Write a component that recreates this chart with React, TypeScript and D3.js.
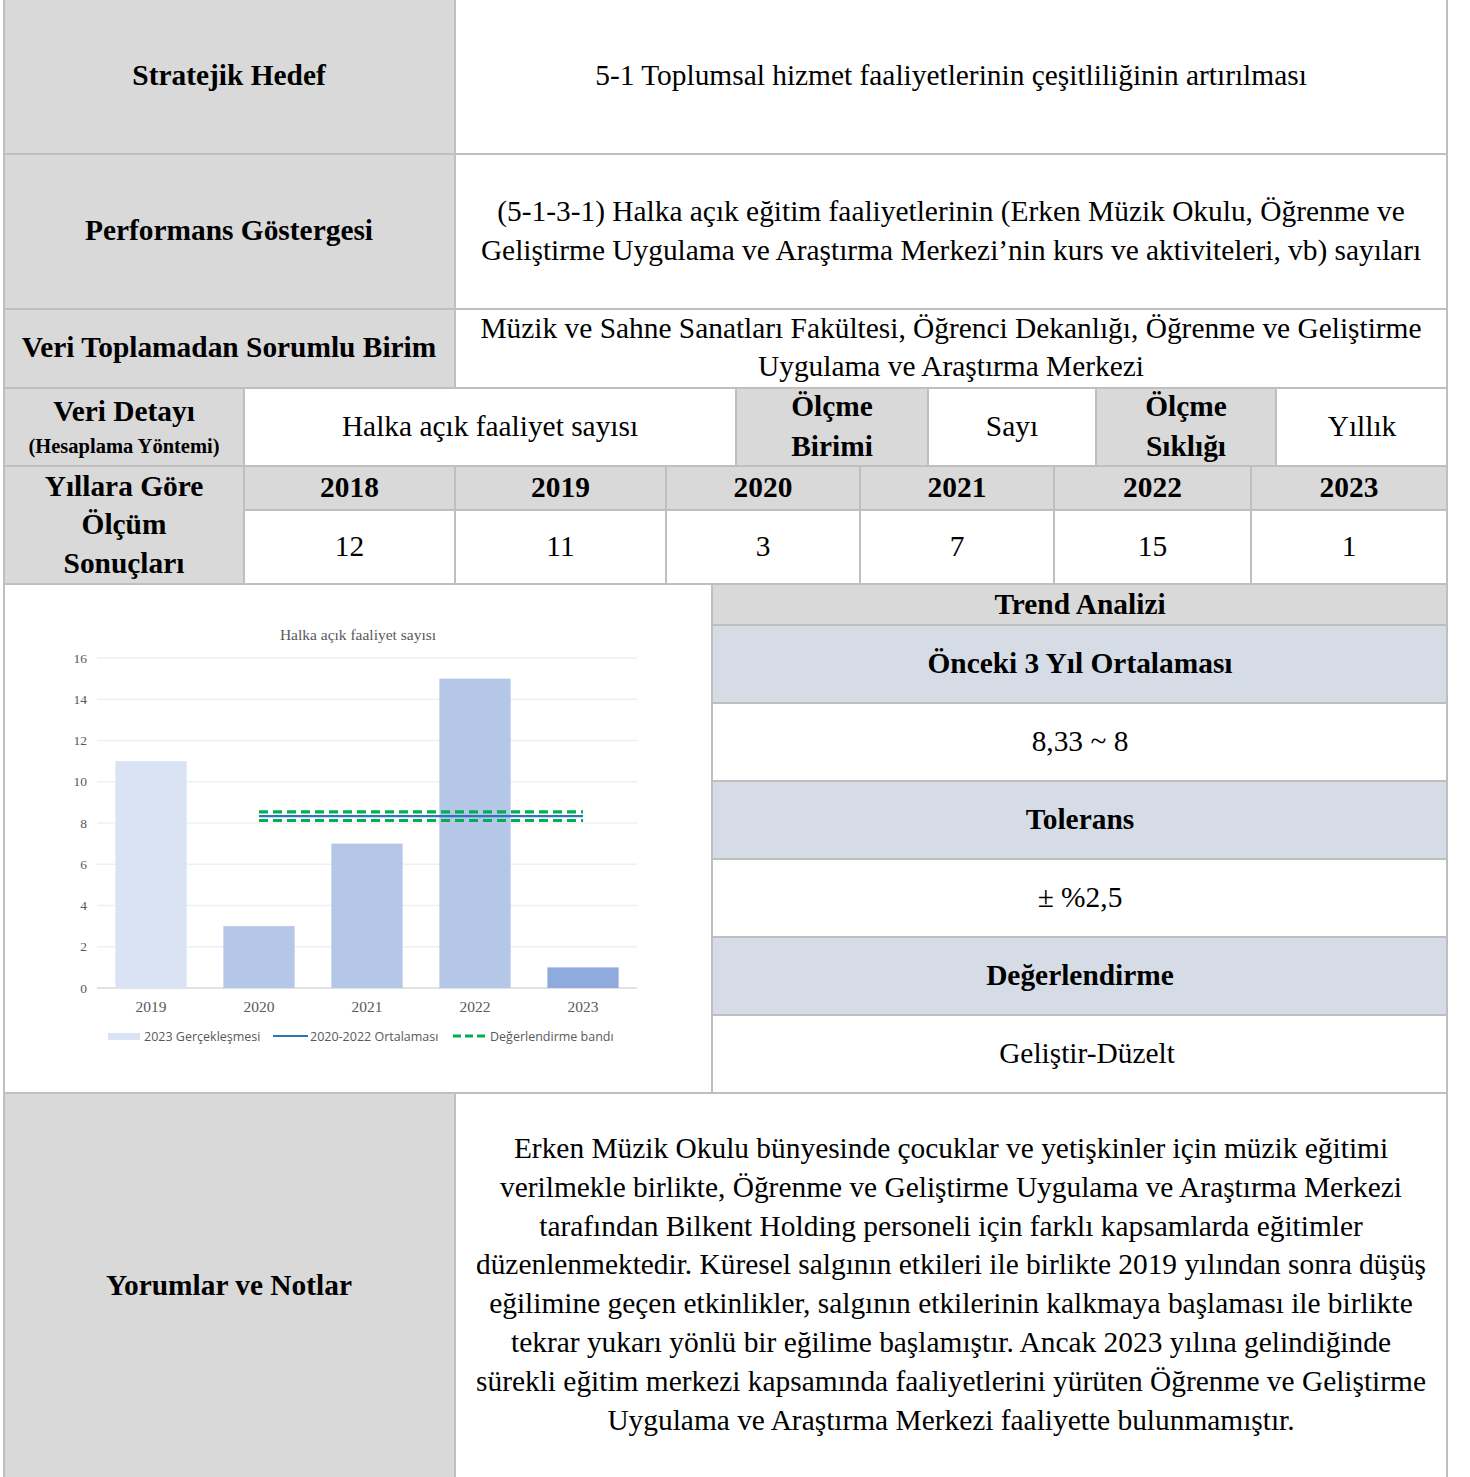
import * as d3 from "d3";

// table values
const tableYears = ["2018", "2019", "2020", "2021", "2022", "2023"];
const tableValues = [12, 11, 3, 7, 15, 1];

// chart values
const chartYears = ["2019", "2020", "2021", "2022", "2023"];
const chartValues = [11, 3, 7, 15, 1];
const barColors = ["#dae3f3", "#b4c7e7", "#b4c7e7", "#b4c7e7", "#8faadc"];
const avgYears = ["2020", "2021", "2022", "2023"];
const avgValue = 8.33;
const tolerance = 0.025;
const yTicks = [0, 2, 4, 6, 8, 10, 12, 14, 16];
const legendLabels = ["2023 Gerçekleşmesi", "2020-2022 Ortalaması", "Değerlendirme bandı"];

const commentLines = [
  "Erken Müzik Okulu bünyesinde çocuklar ve yetişkinler için müzik eğitimi",
  "verilmekle birlikte, Öğrenme ve Geliştirme Uygulama ve Araştırma Merkezi",
  "tarafından Bilkent Holding personeli için farklı kapsamlarda eğitimler",
  "düzenlenmektedir. Küresel salgının etkileri ile birlikte 2019 yılından sonra düşüş",
  "eğilimine geçen etkinlikler, salgının etkilerinin kalkmaya başlaması ile birlikte",
  "tekrar yukarı yönlü bir eğilime başlamıştır. Ancak 2023 yılına gelindiğinde",
  "sürekli eğitim merkezi kapsamında faaliyetlerini yürüten Öğrenme ve Geliştirme",
  "Uygulama ve Araştırma Merkezi faaliyette bulunmamıştır.",
];

const W = 1470;
const H = 1477;
const GRAY = "#d9d9d9";
const BLUE = "#d6dce5";
const LINE = "#bfbfbf";
const SERIF = "'Liberation Serif', 'Times New Roman', serif";
const FS = 29.4;

const L = 4;
const R = 1447;
const LBL = 455;

const Cell = ({ x0, x1, y0, y1, fill }: any) => (
  <rect x={x0} y={y0} width={x1 - x0} height={y1 - y0} fill={fill} stroke={LINE} strokeWidth={2} />
);

const T = ({ x, y, children, bold, size }: any) => (
  <text
    x={x}
    y={y}
    textAnchor="middle"
    dominantBaseline="central"
    fontFamily={SERIF}
    fontSize={size || FS}
    fontWeight={bold ? "bold" : "normal"}
    fill="#000"
  >
    {children}
  </text>
);

const Chart = () => {
  const x = d3.scaleBand().domain(chartYears).range([97, 637]).paddingInner(0.34).paddingOuter(0.17);
  const y = d3.scaleLinear().domain([0, 16]).range([988, 658]);
  const xc = (d: string) => (x(d) as number) + x.bandwidth() / 2;
  const line = d3
    .line<string>()
    .x((d) => xc(d))
    .y(() => y(avgValue));
  const lineHi = d3.line<string>().x((d) => xc(d)).y(() => y(avgValue * (1 + tolerance)));
  const lineLo = d3.line<string>().x((d) => xc(d)).y(() => y(avgValue * (1 - tolerance)));
  const axisGray = "#595959";
  const SANS = "'Open Sans', 'Liberation Sans', sans-serif";
  return (
    <g>
      <text x={358} y={634} textAnchor="middle" dominantBaseline="central" fontFamily={SERIF} fontSize={15.5} fill={axisGray}>
        Halka açık faaliyet sayısı
      </text>
      {yTicks.map((t) => (
        <g key={t}>
          <line x1={97} x2={637} y1={y(t)} y2={y(t)} stroke={t === 0 ? "#d9d9d9" : "#ebf0f8"} strokeWidth={1.5} />
          <text x={87} y={y(t)} textAnchor="end" dominantBaseline="central" fontFamily={SERIF} fontSize={13.5} fill={axisGray}>
            {t}
          </text>
        </g>
      ))}
      {chartYears.map((d, i) => (
        <g key={d}>
          <rect x={x(d)} y={y(chartValues[i])} width={x.bandwidth()} height={y(0) - y(chartValues[i])} fill={barColors[i]} />
          <text x={xc(d)} y={1006} textAnchor="middle" dominantBaseline="central" fontFamily={SERIF} fontSize={15.5} fill={axisGray}>
            {d}
          </text>
        </g>
      ))}
      <path d={lineHi(avgYears) as string} fill="none" stroke="#00b050" strokeWidth={3.2} strokeDasharray="9,5" />
      <path d={lineLo(avgYears) as string} fill="none" stroke="#00b050" strokeWidth={3.2} strokeDasharray="9,5" />
      <path d={line(avgYears) as string} fill="none" stroke="#2e75b6" strokeWidth={2.2} />
      {/* legend */}
      <rect x={108} y={1033} width={32} height={7} fill={barColors[0]} />
      <text x={144} y={1036} dominantBaseline="central" fontFamily={SANS} fontSize={12.5} fill={axisGray}>
        {legendLabels[0]}
      </text>
      <line x1={273} x2={308} y1={1036} y2={1036} stroke="#2e75b6" strokeWidth={2.2} />
      <text x={310} y={1036} dominantBaseline="central" fontFamily={SANS} fontSize={12.5} fill={axisGray}>
        {legendLabels[1]}
      </text>
      <line x1={453} x2={488} y1={1036} y2={1036} stroke="#00b050" strokeWidth={3} strokeDasharray="8,4" />
      <text x={490} y={1036} dominantBaseline="central" fontFamily={SANS} fontSize={12.5} fill={axisGray}>
        {legendLabels[2]}
      </text>
    </g>
  );
};

export default function App() {
  const yrCols = [244, 455, 666, 860, 1054, 1251, R];
  const rightRows = [584, 625, 703, 781, 859, 937, 1015, 1093];
  const rightFills = [GRAY, BLUE, "#fff", BLUE, "#fff", BLUE, "#fff"];
  const rightTexts = ["Trend Analizi", "Önceki 3 Yıl Ortalaması", "8,33 ~ 8", "Tolerans", "± %2,5", "Değerlendirme", "Geliştir-Düzelt"];
  const rightBold = [true, true, false, true, false, true, false];
  return (
    <svg width={W} height={H} style={{ position: "absolute", left: 0, top: 0, background: "#fff" }}>
      {/* row 1 */}
      <Cell x0={L} x1={LBL} y0={-2} y1={154} fill={GRAY} />
      <Cell x0={LBL} x1={R} y0={-2} y1={154} fill="#fff" />
      <T x={229} y={75} bold>Stratejik Hedef</T>
      <T x={951} y={75}>5-1 Toplumsal hizmet faaliyetlerinin çeşitliliğinin artırılması</T>
      {/* row 2 */}
      <Cell x0={L} x1={LBL} y0={154} y1={309} fill={GRAY} />
      <Cell x0={LBL} x1={R} y0={154} y1={309} fill="#fff" />
      <T x={229} y={230} bold>Performans Göstergesi</T>
      <T x={951} y={211}>(5-1-3-1) Halka açık eğitim faaliyetlerinin (Erken Müzik Okulu, Öğrenme ve</T>
      <T x={951} y={250}>Geliştirme Uygulama ve Araştırma Merkezi’nin kurs ve aktiviteleri, vb) sayıları</T>
      {/* row 3 */}
      <Cell x0={L} x1={LBL} y0={309} y1={388} fill={GRAY} />
      <Cell x0={LBL} x1={R} y0={309} y1={388} fill="#fff" />
      <T x={229} y={347} bold>Veri Toplamadan Sorumlu Birim</T>
      <T x={951} y={328}>Müzik ve Sahne Sanatları Fakültesi, Öğrenci Dekanlığı, Öğrenme ve Geliştirme</T>
      <T x={951} y={366}>Uygulama ve Araştırma Merkezi</T>
      {/* row 4 */}
      <Cell x0={L} x1={244} y0={388} y1={466} fill={GRAY} />
      <Cell x0={244} x1={736} y0={388} y1={466} fill="#fff" />
      <Cell x0={736} x1={928} y0={388} y1={466} fill={GRAY} />
      <Cell x0={928} x1={1096} y0={388} y1={466} fill="#fff" />
      <Cell x0={1096} x1={1276} y0={388} y1={466} fill={GRAY} />
      <Cell x0={1276} x1={R} y0={388} y1={466} fill="#fff" />
      <T x={124} y={411} bold>Veri Detayı</T>
      <T x={124} y={446} bold size={20.5}>(Hesaplama Yöntemi)</T>
      <T x={490} y={426}>Halka açık faaliyet sayısı</T>
      <T x={832} y={406} bold>Ölçme</T>
      <T x={832} y={446} bold>Birimi</T>
      <T x={1012} y={426}>Sayı</T>
      <T x={1186} y={406} bold>Ölçme</T>
      <T x={1186} y={446} bold>Sıklığı</T>
      <T x={1362} y={426}>Yıllık</T>
      {/* rows 5-6 */}
      <Cell x0={L} x1={244} y0={466} y1={584} fill={GRAY} />
      <T x={124} y={486} bold>Yıllara Göre</T>
      <T x={124} y={524} bold>Ölçüm</T>
      <T x={124} y={563} bold>Sonuçları</T>
      {tableYears.map((yr, i) => (
        <g key={yr}>
          <Cell x0={yrCols[i]} x1={yrCols[i + 1]} y0={466} y1={510} fill={GRAY} />
          <Cell x0={yrCols[i]} x1={yrCols[i + 1]} y0={510} y1={584} fill="#fff" />
          <T x={(yrCols[i] + yrCols[i + 1]) / 2} y={487} bold>{yr}</T>
          <T x={(yrCols[i] + yrCols[i + 1]) / 2} y={546}>{tableValues[i]}</T>
        </g>
      ))}
      {/* chart section */}
      <Cell x0={L} x1={712} y0={584} y1={1093} fill="#fff" />
      <Chart />
      {rightTexts.map((t, i) => (
        <g key={t}>
          <Cell x0={712} x1={R} y0={rightRows[i]} y1={rightRows[i + 1]} fill={rightFills[i]} />
          <T x={i === 6 ? 1087 : 1080} y={(rightRows[i] + rightRows[i + 1]) / 2 - 1} bold={rightBold[i]}>{t}</T>
        </g>
      ))}
      {/* comments */}
      <Cell x0={L} x1={LBL} y0={1093} y1={H + 4} fill={GRAY} />
      <Cell x0={LBL} x1={R} y0={1093} y1={H + 4} fill="#fff" />
      <T x={229} y={1285} bold>Yorumlar ve Notlar</T>
      {commentLines.map((c, i) => (
        <T key={i} x={951} y={1148 + i * 38.8}>{c}</T>
      ))}
    </svg>
  );
}
